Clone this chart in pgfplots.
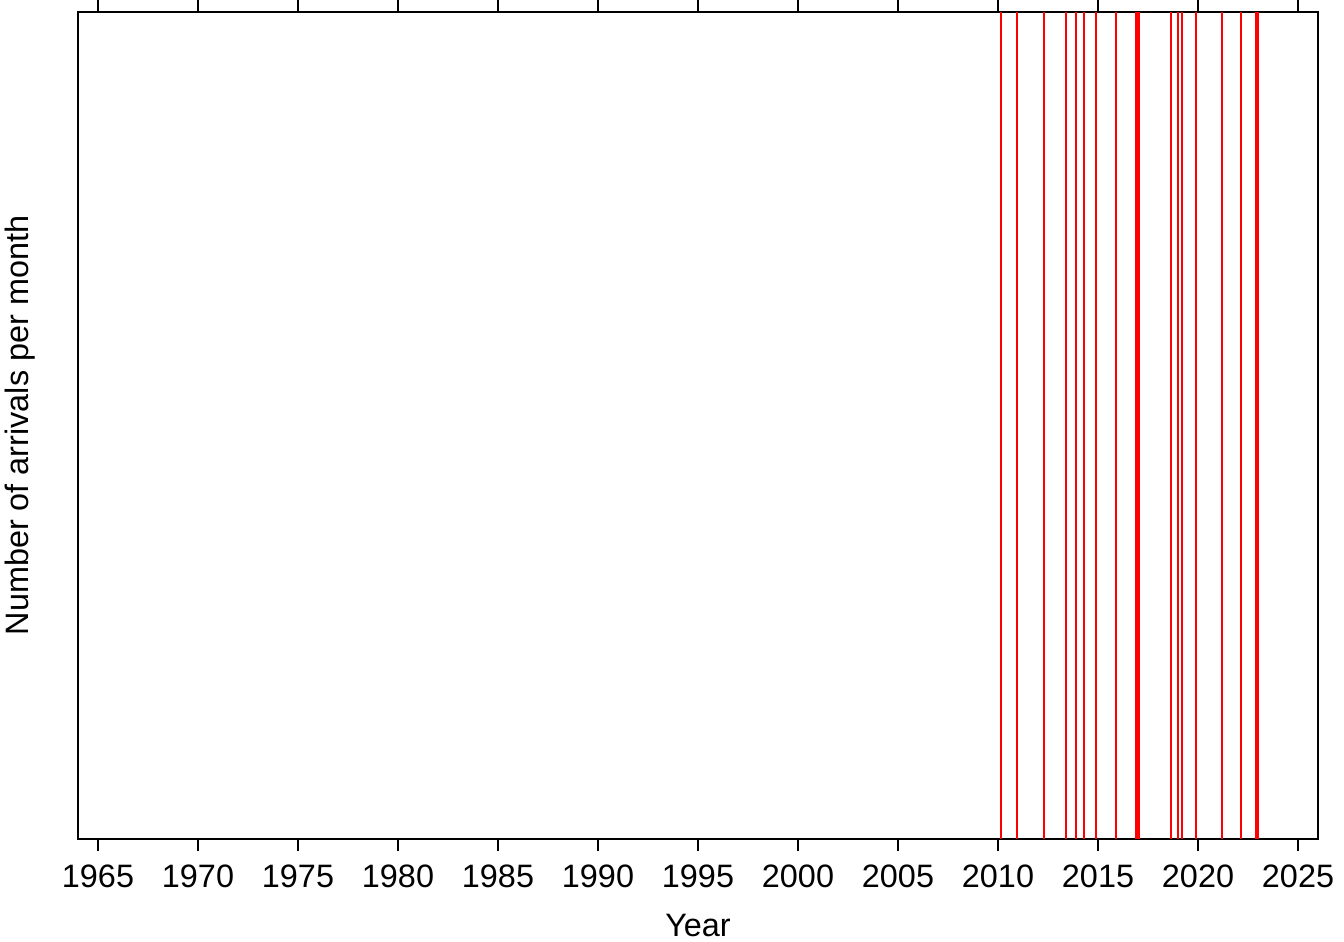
\documentclass[border=0pt]{standalone}
\usepackage{fontspec}
\setmainfont{Liberation Sans}
\usepackage{pgfplots}
\pgfplotsset{compat=1.18}
\begin{document}
\fontsize{16pt}{19pt}\selectfont
\begin{tikzpicture}
\begin{axis}[
  name=ax,
  scale only axis,
  width=620pt, height=413.5pt,
  xmin=1964, xmax=2026, ymin=0, ymax=1,
  xtick={1965,1970,...,2025},
  ytick=\empty,
  xtick pos=both,
  tick align=outside,
  major tick length=6pt,
  every tick/.style={black, line width=0.6pt},
  axis line style={line width=1.2pt},
  /pgf/number format/assume math mode=true,
  /pgf/number format/1000 sep={},
  xticklabel style={anchor=base, yshift=-18pt, font=\fontsize{16.2pt}{19pt}\selectfont},
  xlabel={Year},
  ylabel={Number of arrivals per month},
  xlabel style={at={(axis description cs:0.5,-0.1185)}, anchor=base, inner sep=0pt},
  ylabel style={at={(axis description cs:-0.04032,0.5)}, anchor=base, inner sep=0pt},
  label style={font=\fontsize{16.2pt}{19pt}\selectfont},
  clip=true,
]
\addplot[ycomb, red, line width=1pt, mark=none] coordinates {
(2010.135,1) (2010.95,1) (2012.285,1) (2013.385,1) (2013.885,1)
(2014.3,1) (2014.885,1) (2015.885,1) (2016.885,1) (2016.95,1)
(2017.035,1) (2018.635,1) (2018.985,1) (2019.2,1) (2019.885,1)
(2021.185,1) (2022.135,1) (2022.885,1) (2023.015,1)
};
\end{axis}
\pgfresetboundingbox
\path ([xshift=-39pt,yshift=-51.5pt]ax.south west) rectangle ([xshift=13pt,yshift=6pt]ax.north east);
\end{tikzpicture}
\end{document}
